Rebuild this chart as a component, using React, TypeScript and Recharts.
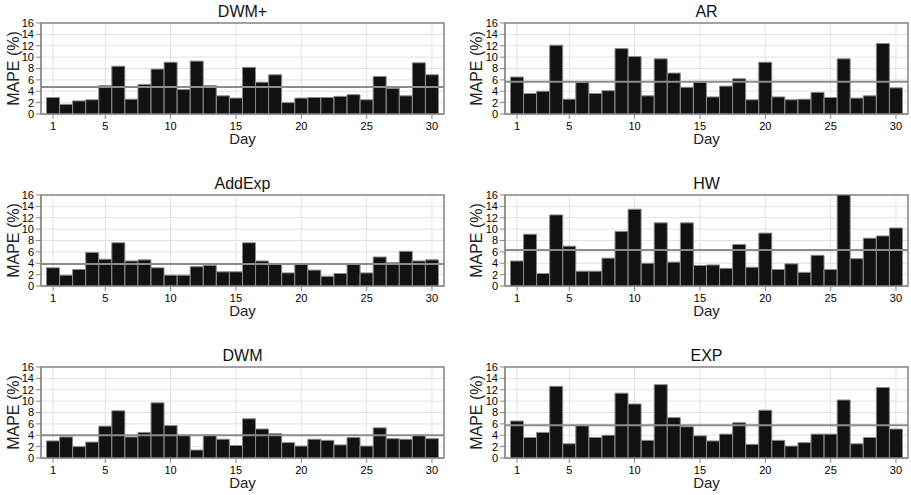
import { BarChart, Bar, XAxis, YAxis, CartesianGrid, ReferenceLine, ReferenceArea, Label } from 'recharts';

const days = [1, 2, 3, 4, 5, 6, 7, 8, 9, 10, 11, 12, 13, 14, 15, 16, 17, 18, 19, 20, 21, 22, 23, 24, 25, 26, 27, 28, 29, 30];
const dayTicks = [1, 5, 10, 15, 20, 25, 30];
const mapeTicks = [0, 2, 4, 6, 8, 10, 12, 14, 16];

// MAPE (%) per day
const dwmPlus = [2.9, 1.7, 2.3, 2.5, 5.0, 8.4, 2.6, 5.2, 7.9, 9.1, 4.3, 9.3, 5.0, 3.2, 2.8, 8.2, 5.6, 6.9, 2.0, 2.8, 2.9, 2.9, 3.1, 3.4, 2.5, 6.6, 4.5, 3.2, 9.0, 6.9];
const ar = [6.5, 3.6, 4.0, 12.1, 2.6, 5.6, 3.6, 4.1, 11.5, 10.1, 3.2, 9.7, 7.2, 4.7, 5.6, 3.0, 4.9, 6.2, 2.5, 9.1, 3.0, 2.5, 2.6, 3.8, 2.9, 9.7, 2.8, 3.2, 12.4, 4.6];
const addExp = [3.2, 1.9, 2.9, 5.9, 4.7, 7.6, 4.4, 4.6, 3.2, 1.9, 1.9, 3.4, 3.6, 2.5, 2.5, 7.6, 4.4, 3.8, 2.3, 3.8, 2.8, 1.7, 2.2, 3.8, 2.3, 5.1, 4.1, 6.1, 4.4, 4.6];
const hw = [4.4, 9.1, 2.2, 12.5, 7.0, 2.6, 2.6, 4.9, 9.6, 13.5, 4.0, 11.1, 4.2, 11.1, 3.6, 3.7, 3.1, 7.3, 3.3, 9.3, 2.9, 3.9, 2.4, 5.4, 2.9, 16.0, 4.8, 8.4, 8.8, 10.2];
const dwm = [3.0, 3.7, 2.0, 2.8, 5.6, 8.3, 3.7, 4.5, 9.7, 5.7, 4.0, 1.4, 4.0, 3.3, 2.2, 6.9, 5.1, 4.3, 2.7, 2.1, 3.3, 3.1, 2.3, 3.6, 2.1, 5.3, 3.4, 3.3, 4.0, 3.4];
const exp = [6.5, 3.6, 4.5, 12.6, 2.5, 5.7, 3.6, 4.0, 11.4, 9.5, 3.1, 12.9, 7.1, 5.5, 3.9, 3.0, 4.2, 6.2, 2.4, 8.4, 3.1, 2.1, 2.7, 4.2, 4.2, 10.2, 2.5, 3.6, 12.4, 5.1];

// horizontal mean lines
const means = { dwmPlus: 4.76, ar: 5.65, addExp: 3.85, hw: 6.35, dwm: 4.0, exp: 5.75 };

const FONT = '"Liberation Sans", Arial, sans-serif';
const X_DOMAIN: [number, number] = [0.08, 30.92];

interface PanelProps {
  title: string;
  values: number[];
  mean: number;
  left: number;
  top: number;
  width: number;
  axisWidth: number;
  rightMargin: number;
  labelX: number;
}

const Panel = ({ title, values, mean, left, top, width, axisWidth, rightMargin, labelX }: PanelProps) => {
  const data = days.map((d, i) => ({ day: d, mape: values[i] }));
  const plotLeft = axisWidth;
  const plotRight = width - rightMargin;

  return (
    <div style={{ position: 'absolute', left, top, width, height: 150 }}>
      <div
        style={{
          position: 'absolute',
          top: 3,
          left: plotLeft,
          width: plotRight - plotLeft,
          textAlign: 'center',
          fontFamily: FONT,
          fontSize: 16,
          lineHeight: '17px',
          color: '#111',
        }}
      >
        {title}
      </div>
      <BarChart
        width={width}
        height={150}
        data={data}
        margin={{ top: 23, right: rightMargin, bottom: 6, left: 0 }}
        barCategoryGap={0}
        barGap={0}
      >
        <CartesianGrid stroke="#e2e2e2" strokeWidth={1} />
        <ReferenceArea x1={X_DOMAIN[0]} x2={X_DOMAIN[1]} y1={0} y2={16} fill="none" stroke="#888" strokeWidth={1.5} />
        <XAxis
          type="number"
          dataKey="day"
          domain={X_DOMAIN}
          ticks={dayTicks}
          allowDataOverflow
          height={30}
          tickSize={5}
          tickMargin={3}
          stroke="#888"
          tick={{ fill: '#000', fontSize: 11, fontFamily: FONT }}
        >
          <Label value="Day" position="insideBottom" offset={0} fill="#222" fontSize={15} fontFamily={FONT} />
        </XAxis>
        <YAxis
          domain={[0, 16]}
          ticks={mapeTicks}
          allowDataOverflow
          width={axisWidth}
          tickSize={5}
          tickMargin={2}
          stroke="#888"
          interval={0}
          tick={{ fill: '#000', fontSize: 11, fontFamily: FONT }}
        >
          <Label
            content={(props: any) => {
              const vb = props.viewBox || {};
              const cy = (vb.y ?? 23) + (vb.height ?? 91) / 2;
              return (
                <text
                  x={labelX}
                  y={cy}
                  transform={`rotate(-90 ${labelX} ${cy})`}
                  textAnchor="middle"
                  dominantBaseline="central"
                  fontSize={16}
                  fontFamily={FONT}
                  fill="#222"
                >
                  MAPE (%)
                </text>
              );
            }}
          />
        </YAxis>
        <Bar dataKey="mape" fill="#111" stroke="#8a8a8a" strokeWidth={1} barSize={13} isAnimationActive={false} />
        <ReferenceLine y={mean} stroke="#8c8c8c" strokeWidth={2} />
      </BarChart>
    </div>
  );
};

const App = () => {
  const leftCol = { left: 0, width: 455, axisWidth: 41, rightMargin: 11, labelX: 13 };
  const rightCol = { left: 455, width: 456, axisWidth: 50, rightMargin: 3, labelX: 21 };
  return (
    <div style={{ position: 'absolute', left: 0, top: 0, width: 911, height: 495, background: '#fff' }}>
      <Panel title="DWM+" values={dwmPlus} mean={means.dwmPlus} top={0} {...leftCol} />
      <Panel title="AR" values={ar} mean={means.ar} top={0} {...rightCol} />
      <Panel title="AddExp" values={addExp} mean={means.addExp} top={172} {...leftCol} />
      <Panel title="HW" values={hw} mean={means.hw} top={172} {...rightCol} />
      <Panel title="DWM" values={dwm} mean={means.dwm} top={344} {...leftCol} />
      <Panel title="EXP" values={exp} mean={means.exp} top={344} {...rightCol} />
    </div>
  );
};

export default App;
